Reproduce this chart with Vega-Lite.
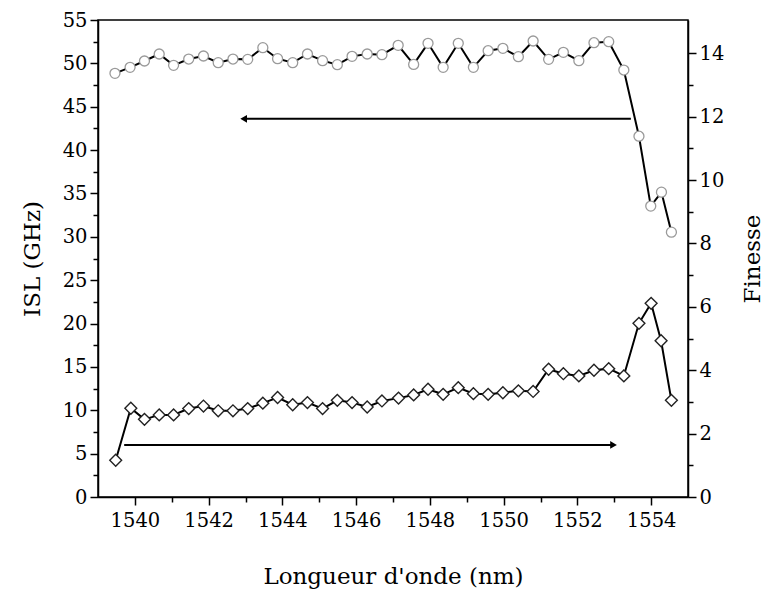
{
  "$schema": "https://vega.github.io/schema/vega-lite/v6.json",
  "width": 590,
  "height": 477,
  "autosize": {"type": "none"},
  "padding": {"left": 98, "top": 20, "right": 76, "bottom": 104},
  "background": "white",
  "config": {
    "view": {"stroke": "black", "strokeWidth": 1.5},
    "axis": {
      "grid": false,
      "domainColor": "black",
      "domainWidth": 1.5,
      "tickColor": "black",
      "tickWidth": 1.5,
      "labelFont": "DejaVu Serif",
      "labelFontSize": 19.5,
      "labelColor": "black",
      "titleFont": "DejaVu Serif",
      "titleFontSize": 23,
      "titleFontWeight": "normal",
      "titleColor": "black"
    }
  },
  "datasets": {
    "isl": [
      {"wl": 1539.46, "val": 48.85}, {"wl": 1539.87, "val": 49.54}, {"wl": 1540.26, "val": 50.27},
      {"wl": 1540.66, "val": 51.08}, {"wl": 1541.05, "val": 49.77}, {"wl": 1541.46, "val": 50.5},
      {"wl": 1541.86, "val": 50.85}, {"wl": 1542.26, "val": 50.08}, {"wl": 1542.66, "val": 50.5},
      {"wl": 1543.06, "val": 50.46}, {"wl": 1543.47, "val": 51.81}, {"wl": 1543.87, "val": 50.54},
      {"wl": 1544.28, "val": 50.08}, {"wl": 1544.68, "val": 51.08}, {"wl": 1545.09, "val": 50.31},
      {"wl": 1545.49, "val": 49.85}, {"wl": 1545.89, "val": 50.81}, {"wl": 1546.3, "val": 51.08},
      {"wl": 1546.7, "val": 51.0}, {"wl": 1547.14, "val": 52.08}, {"wl": 1547.56, "val": 49.88},
      {"wl": 1547.95, "val": 52.31}, {"wl": 1548.36, "val": 49.54}, {"wl": 1548.77, "val": 52.31},
      {"wl": 1549.18, "val": 49.54}, {"wl": 1549.58, "val": 51.46}, {"wl": 1549.98, "val": 51.73},
      {"wl": 1550.4, "val": 50.77}, {"wl": 1550.8, "val": 52.58}, {"wl": 1551.22, "val": 50.46},
      {"wl": 1551.62, "val": 51.27}, {"wl": 1552.04, "val": 50.31}, {"wl": 1552.45, "val": 52.38},
      {"wl": 1552.85, "val": 52.5}, {"wl": 1553.26, "val": 49.23}, {"wl": 1553.67, "val": 41.6},
      {"wl": 1553.99, "val": 33.54}, {"wl": 1554.28, "val": 35.15}, {"wl": 1554.55, "val": 30.54}
    ],
    "fin": [
      {"wl": 1539.48, "val": 1.16}, {"wl": 1539.89, "val": 2.8}, {"wl": 1540.26, "val": 2.45},
      {"wl": 1540.66, "val": 2.59}, {"wl": 1541.05, "val": 2.59}, {"wl": 1541.46, "val": 2.79},
      {"wl": 1541.86, "val": 2.87}, {"wl": 1542.26, "val": 2.72}, {"wl": 1542.66, "val": 2.72},
      {"wl": 1543.06, "val": 2.79}, {"wl": 1543.47, "val": 2.96}, {"wl": 1543.87, "val": 3.14},
      {"wl": 1544.28, "val": 2.91}, {"wl": 1544.68, "val": 2.98}, {"wl": 1545.09, "val": 2.79},
      {"wl": 1545.49, "val": 3.05}, {"wl": 1545.89, "val": 2.98}, {"wl": 1546.3, "val": 2.84},
      {"wl": 1546.7, "val": 3.03}, {"wl": 1547.15, "val": 3.12}, {"wl": 1547.56, "val": 3.22},
      {"wl": 1547.95, "val": 3.4}, {"wl": 1548.36, "val": 3.24}, {"wl": 1548.77, "val": 3.45},
      {"wl": 1549.18, "val": 3.26}, {"wl": 1549.58, "val": 3.24}, {"wl": 1549.98, "val": 3.29},
      {"wl": 1550.4, "val": 3.35}, {"wl": 1550.8, "val": 3.33}, {"wl": 1551.22, "val": 4.03},
      {"wl": 1551.62, "val": 3.89}, {"wl": 1552.04, "val": 3.82}, {"wl": 1552.45, "val": 4.0},
      {"wl": 1552.85, "val": 4.05}, {"wl": 1553.26, "val": 3.82}, {"wl": 1553.67, "val": 5.48},
      {"wl": 1554.0, "val": 6.11}, {"wl": 1554.27, "val": 4.93}, {"wl": 1554.55, "val": 3.05}
    ],
    "arrows": [
      {"wl": 1553.45, "wl2": 1542.95, "val": 43.6, "dir": "left"},
      {"wl": 1539.71, "wl2": 1552.98, "val": 6.0, "dir": "right"}
    ]
  },
  "layer": [
    {
      "encoding": {
        "x": {
          "field": "wl", "type": "quantitative",
          "scale": {"domain": [1539, 1555], "nice": false, "zero": false},
          "axis": {
            "title": "Longueur d'onde (nm)",
            "values": [1540, 1541, 1542, 1543, 1544, 1545, 1546, 1547, 1548, 1549, 1550, 1551, 1552, 1553, 1554],
            "labelExpr": "datum.value % 2 === 0 ? datum.label : ''",
            "format": "d",
            "tickSize": {"condition": {"test": "datum.value % 2 === 0", "value": 8}, "value": 5},
            "labelPadding": 6,
            "titlePadding": 36
          }
        },
        "y": {
          "field": "val", "type": "quantitative",
          "scale": {"domain": [0, 55], "nice": false},
          "axis": {
            "title": "ISL (GHz)",
            "values": [0, 2.5, 5, 7.5, 10, 12.5, 15, 17.5, 20, 22.5, 25, 27.5, 30, 32.5, 35, 37.5, 40, 42.5, 45, 47.5, 50, 52.5, 55],
            "labelExpr": "datum.value % 5 === 0 ? datum.label : ''",
            "tickSize": {"condition": {"test": "datum.value % 5 === 0", "value": 8}, "value": 5},
            "labelPadding": 3,
            "titlePadding": 18
          }
        }
      },
      "layer": [
        {
          "data": {"name": "isl"},
          "mark": {"type": "line", "color": "black", "strokeWidth": 2}
        },
        {
          "data": {"name": "isl"},
          "mark": {"type": "point", "shape": "circle", "filled": true, "fill": "white", "stroke": "#9a9a9a", "strokeWidth": 1.3, "size": 100, "opacity": 1}
        },
        {
          "data": {"name": "arrows"},
          "mark": {"type": "rule", "color": "black", "strokeWidth": 2},
          "encoding": {"x2": {"field": "wl2"}}
        },
        {
          "data": {"name": "arrows"},
          "mark": {"type": "point", "filled": true, "color": "black", "size": 60, "opacity": 1},
          "encoding": {
            "x": {"field": "wl2", "type": "quantitative"},
            "shape": {"field": "dir", "type": "nominal", "scale": {"domain": ["left", "right"], "range": ["triangle-left", "triangle-right"]}, "legend": null}
          }
        }
      ]
    },
    {
      "data": {"name": "fin"},
      "encoding": {
        "x": {"field": "wl", "type": "quantitative"},
        "y": {
          "field": "val", "type": "quantitative",
          "scale": {"domain": [0, 15.05], "nice": false},
          "axis": {
            "orient": "right",
            "title": "Finesse",
            "titleAngle": -90,
            "titleBaseline": "top",
            "values": [0, 1, 2, 3, 4, 5, 6, 7, 8, 9, 10, 11, 12, 13, 14],
            "labelExpr": "datum.value % 2 === 0 ? datum.label : ''",
            "tickSize": {"condition": {"test": "datum.value % 2 === 0", "value": 8}, "value": 5},
            "labelPadding": 3,
            "titlePadding": 18
          }
        }
      },
      "layer": [
        {"mark": {"type": "line", "color": "black", "strokeWidth": 2}},
        {"mark": {"type": "point", "shape": "diamond", "filled": true, "fill": "white", "stroke": "#222222", "strokeWidth": 1.4, "size": 140, "opacity": 1}}
      ]
    }
  ],
  "resolve": {"scale": {"y": "independent"}}
}
